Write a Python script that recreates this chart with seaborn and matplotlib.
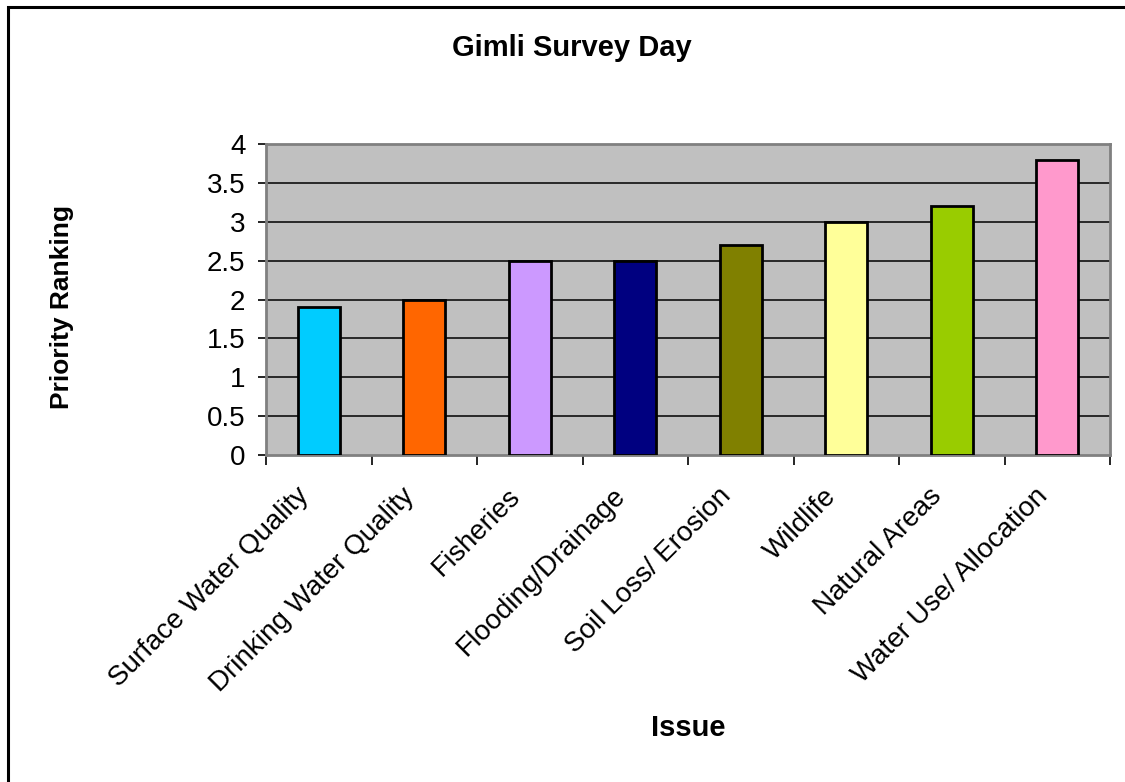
import matplotlib
matplotlib.use("Agg")
import matplotlib.pyplot as plt
from matplotlib.patches import Rectangle
from matplotlib.ticker import FixedLocator, NullFormatter
from matplotlib.transforms import ScaledTranslation, blended_transform_factory
import seaborn as sns
import pandas as pd

# Survey results
issues = [
    "Surface Water Quality",
    "Drinking Water Quality",
    "Fisheries",
    "Flooding/Drainage",
    "Soil Loss/ Erosion",
    "Wildlife",
    "Natural Areas",
    "Water Use/ Allocation",
]
ranking = [1.9, 2.0, 2.5, 2.5, 2.7, 3.0, 3.2, 3.8]
bar_colors = ["#00CCFF", "#FF6600", "#CC99FF", "#000080",
              "#808000", "#FFFF99", "#99CC00", "#FF99CC"]
y_ticks = [0, 0.5, 1, 1.5, 2, 2.5, 3, 3.5, 4]

sns.set_theme(style="white")
plt.rcParams["font.family"] = ["Liberation Sans", "DejaVu Sans"]
plt.rcParams["text.color"] = "black"
plt.rcParams["axes.labelcolor"] = "black"
plt.rcParams["xtick.color"] = "black"
plt.rcParams["ytick.color"] = "black"

df = pd.DataFrame({"Issue": issues, "Priority Ranking": ranking})

W, H = 1125, 782
fig = plt.figure(figsize=(W / 100, H / 100), dpi=100)
fig.patch.set_facecolor("white")
ax = fig.add_axes([266 / W, 1 - 455 / H, (1110 - 266) / W, (455 - 144) / H])
ax.set_facecolor("#C0C0C0")

sns.barplot(data=df, x="Issue", y="Priority Ranking", hue="Issue",
            palette=bar_colors, saturation=1, legend=False, width=0.4,
            edgecolor="black", linewidth=2.0, ax=ax, zorder=3)

ax.set_xlim(-0.5, len(issues) - 0.5)
ax.set_ylim(0, 4)
ax.set_yticks(y_ticks)
ax.set_yticklabels([f"{t:g}" for t in y_ticks], fontsize=20)
for t in y_ticks[1:-1]:
    ax.axhline(t, color="black", lw=1.1, zorder=1)

# tick marks sit on category boundaries; names are drawn as slanted text
ax.set_xticks([])
ax.xaxis.set_minor_locator(FixedLocator([i - 0.5 for i in range(len(issues) + 1)]))
ax.xaxis.set_minor_formatter(NullFormatter())
ax.tick_params(axis="x", which="minor", length=7, width=1.2, color="black",
               direction="out", bottom=True)
ax.tick_params(axis="y", length=5.8, width=1.2, color="black", direction="out",
               left=True, pad=9)

name_tf = blended_transform_factory(ax.transData, ax.transAxes) + \
    ScaledTranslation(-23 / 100, -28 / 100, fig.dpi_scale_trans)
for i, name in enumerate(issues):
    ax.text(i, 0, name, transform=name_tf, fontsize=20, rotation=45,
            ha="right", va="top", rotation_mode="anchor")

for side in ["left", "right", "top", "bottom"]:
    ax.spines[side].set_color("#808080")
    ax.spines[side].set_linewidth(2)

ax.set_xlabel("Issue", fontsize=21, fontweight="bold")
ax.set_ylabel("Priority Ranking", fontsize=19, fontweight="bold")
ax.xaxis.set_label_coords(0.5, (455 - 728) / (455 - 144))
ax.xaxis.label.set_va("center")
ax.yaxis.set_label_coords((62 - 266) / (1110 - 266), (455 - 307) / (455 - 144))
ax.yaxis.label.set_va("center")

fig.text(572 / W, 1 - 48 / H, "Gimli Survey Day", fontsize=21,
         fontweight="bold", ha="center", va="center")

# chart frame
fig.add_artist(Rectangle((8 / W, -0.2), 1.5, 1 - 7 / H + 0.2,
                         transform=fig.transFigure, fill=False,
                         ec="black", lw=2.2))

fig.savefig("out.png", dpi=100)
